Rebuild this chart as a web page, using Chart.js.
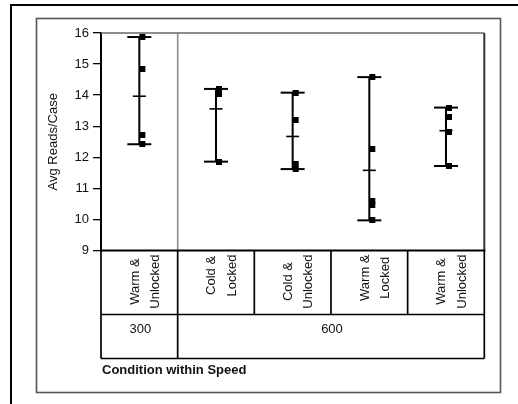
<!DOCTYPE html>
<html><head><meta charset="utf-8">
<script src="https://cdn.jsdelivr.net/npm/chart.js@4.4.1/dist/chart.umd.min.js"></script>
<style>html,body{margin:0;padding:0;background:#fff;overflow:hidden}#wrap{width:518px;height:404px;position:relative}</style>
</head><body><div id="wrap"><canvas id="c" width="518" height="404"></canvas></div>
<script>
// ---- data ----
const conditions = [["Warm &","Unlocked"],["Cold &","Locked"],["Cold &","Unlocked"],["Warm &","Locked"],["Warm &","Unlocked"]];
const speeds = ["300","600"];
const speedOfCondition = [0,1,1,1,1];
const readsWarmUnlocked300 = [15.87,14.85,12.72,12.42];
const readsColdLocked600 = [14.2,14.12,14.05,11.86];
const readsColdUnlocked600 = [14.08,13.2,11.78,11.62];
const readsWarmLocked600 = [14.58,12.28,10.6,10.47,9.97];
const readsWarmUnlocked600 = [13.6,13.3,12.8,11.72];
const yTicks = [9,10,11,12,13,14,15,16];
const yTitle = "Avg Reads/Case";
const xTitle = "Condition within Speed";

const groups = [readsWarmUnlocked300, readsColdLocked600, readsColdUnlocked600, readsWarmLocked600, readsWarmUnlocked600];
const pointData = [], rangeData = [], capData = [], meanData = [];
groups.forEach((g,i)=>{
  g.forEach(v=>pointData.push({x:i,y:v}));
  const lo = Math.min(...g), hi = Math.max(...g);
  rangeData.push({x:i,y:lo},{x:i,y:hi},{x:i,y:null});
  capData.push({x:i,y:lo},{x:i,y:hi});
  meanData.push({x:i,y:g.reduce((a,b)=>a+b,0)/g.length});
});

const FONT = '"Liberation Sans", Arial, Helvetica, sans-serif';
Chart.defaults.font.family = FONT;
Chart.defaults.color = '#111';

// square marker drawn to the right of the bar
const sq = document.createElement('canvas');
sq.width = 16; sq.height = 6;
(function(){ const c = sq.getContext('2d'); c.fillStyle = '#000'; c.fillRect(8, 0, 6, 6); })();

const framePlugin = {
  id: 'frames',
  beforeDraw(chart){
    const ctx = chart.ctx;
    ctx.save();
    ctx.fillStyle = '#fff'; ctx.fillRect(0,0,chart.width,chart.height);
    ctx.strokeStyle = '#000'; ctx.lineWidth = 2; ctx.strokeRect(11,5,600,500);
    ctx.strokeStyle = '#555'; ctx.lineWidth = 1.6; ctx.strokeRect(36.5,18.5,464,374);
    ctx.restore();
  },
  beforeDatasetsDraw(chart){
    const {ctx, chartArea:a, scales:{x}} = chart;
    ctx.save();
    ctx.strokeStyle = '#888'; ctx.lineWidth = 1.5;
    for (let i=0;i<speedOfCondition.length-1;i++){
      if (speedOfCondition[i] !== speedOfCondition[i+1]){
        const px = x.getPixelForValue(i+0.5);
        ctx.beginPath(); ctx.moveTo(px, a.top); ctx.lineTo(px, a.bottom); ctx.stroke();
      }
    }
    ctx.strokeStyle = '#666'; ctx.lineWidth = 1.6;
    ctx.beginPath(); ctx.moveTo(a.left, a.top); ctx.lineTo(a.right, a.top); ctx.stroke();
    ctx.strokeStyle = '#333'; ctx.lineWidth = 2;
    ctx.beginPath(); ctx.moveTo(a.right, a.top); ctx.lineTo(a.right, a.bottom); ctx.stroke();
    ctx.restore();
  },
  afterDraw(chart){
    const {ctx, chartArea:a, scales:{x}} = chart;
    const row1 = a.bottom + 64, row2 = a.bottom + 108;
    ctx.save();
    ctx.strokeStyle = '#000';
    ctx.lineWidth = 2;
    ctx.beginPath(); ctx.moveTo(a.left-1, a.bottom); ctx.lineTo(a.right+1, a.bottom); ctx.stroke();
    ctx.lineWidth = 1.7;
    ctx.beginPath();
    ctx.moveTo(a.left, row1); ctx.lineTo(a.right, row1);
    ctx.moveTo(a.left, row2); ctx.lineTo(a.right, row2);
    ctx.moveTo(a.left, a.bottom); ctx.lineTo(a.left, row2);
    ctx.moveTo(a.right, a.bottom); ctx.lineTo(a.right, row2);
    for (let i=0;i<conditions.length-1;i++){
      const px = x.getPixelForValue(i+0.5);
      const end = speedOfCondition[i] !== speedOfCondition[i+1] ? row2 : row1;
      ctx.moveTo(px, a.bottom); ctx.lineTo(px, end);
    }
    ctx.stroke();
    ctx.fillStyle = '#111';
    ctx.font = '13px ' + FONT;
    ctx.textAlign = 'center'; ctx.textBaseline = 'alphabetic';
    conditions.forEach((lines,i)=>{
      const cx = x.getPixelForValue(i);
      const w = Math.max(...lines.map(l=>ctx.measureText(l).width));
      const cy = a.bottom + 4 + w/2;
      lines.forEach((l,j)=>{
        ctx.save();
        ctx.translate(cx - 0.7 + j*20.3, cy);
        ctx.rotate(-Math.PI/2);
        ctx.fillText(l, 0, 0);
        ctx.restore();
      });
    });
    speeds.forEach((s,k)=>{
      const idx = speedOfCondition.map((v,i)=>v===k?i:-1).filter(i=>i>=0);
      const left = x.getPixelForValue(Math.min(...idx)-0.5), right = x.getPixelForValue(Math.max(...idx)+0.5);
      ctx.fillText(s, (left+right)/2 + 1, a.bottom + 82.5);
    });
    ctx.textAlign = 'left';
    ctx.font = 'bold 13px ' + FONT;
    ctx.fillText(xTitle, a.left + 1, a.bottom + 123.5);
    ctx.restore();
  }
};

new Chart(document.getElementById('c'), {
  type: 'scatter',
  data: {
    datasets: [
      { data: pointData, pointStyle: sq, pointRadius: 3, pointHoverRadius: 3, order: 0, clip: false },
      { data: capData, pointStyle: 'line', pointRadius: 12, pointHoverRadius: 12, pointBorderColor: '#000', pointBorderWidth: 2, pointBackgroundColor: '#000', order: 1, clip: false },
      { data: meanData, pointStyle: 'line', pointRadius: 6.5, pointHoverRadius: 6.5, pointBorderColor: '#000', pointBorderWidth: 1.6, order: 2, clip: false },
      { data: rangeData, showLine: true, spanGaps: false, borderColor: '#000', borderWidth: 2, pointRadius: 0, pointHoverRadius: 0, order: 3, clip: false }
    ]
  },
  options: {
    responsive: false,
    animation: false,
    events: [],
    layout: { padding: { left: 37, top: 33, right: 518 - 484.3, bottom: 404 - 250.5 } },
    plugins: { legend: { display: false }, tooltip: { enabled: false } },
    scales: {
      x: { type: 'linear', min: -0.5, max: 4.5, display: false },
      y: {
        type: 'linear', min: 9, max: 16,
        afterFit: s => { s.width = 64; },
        afterBuildTicks: s => { s.ticks = yTicks.map(v => ({ value: v })); },
        grid: { drawOnChartArea: false, drawTicks: true, tickLength: 8, color: '#000', lineWidth: 1.3 },
        border: { display: true, color: '#000', width: 2 },
        ticks: { font: { size: 13 }, color: '#111', padding: 4 },
        title: { display: true, text: yTitle, font: { size: 13 }, color: '#111', padding: { top: 9, bottom: 0 } }
      }
    }
  },
  plugins: [framePlugin]
});
</script>
</body></html>
